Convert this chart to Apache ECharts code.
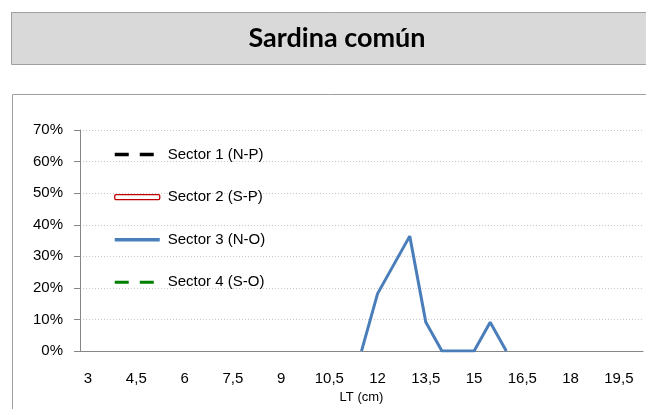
<!DOCTYPE html>
<html lang="es">
<head>
  <meta charset="UTF-8" />
  <title>Sardina común</title>
  <script src="https://cdn.jsdelivr.net/npm/echarts@6/dist/echarts.min.js"></script>
  <style>
    html, body { margin: 0; padding: 0; background: #fff; }
    #grafico { width: 646px; height: 409px; }
  </style>
</head>
<body>
  <div id="grafico"></div>
  <script>
    // Tallas LT (cm), de 3 a 20 cada 0,5
    var tallas = ['3','3,5','4','4,5','5','5,5','6','6,5','7','7,5','8','8,5','9','9,5','10','10,5',
      '11','11,5','12','12,5','13','13,5','14','14,5','15','15,5','16','16,5','17','17,5','18','18,5',
      '19','19,5','20'];

    // Frecuencia (%) por sector
    var sector1 = [];
    var sector2 = [];
    var sector3 = [null,null,null,null,null,null,null,null,null,null,null,null,null,null,null,null,
      null,0,18.2,27.3,36.4,9.1,0,0,0,9.1,0];
    var sector4 = [];

    var nombres = ['Sector 1 (N-P)', 'Sector 2 (S-P)', 'Sector 3 (N-O)', 'Sector 4 (S-O)'];

    var chart = echarts.init(document.getElementById('grafico'));
    var fuente = '"Liberation Sans", Arial, sans-serif';
    var sinPunto = { opacity: 0 };

    var option = {
      animation: false,
      graphic: [
        { type: 'rect', z: -10, shape: { x: 11.5, y: 12.5, width: 640, height: 52 },
          style: { fill: '#d9d9d9', stroke: '#a0a0a0', lineWidth: 1 } },
        { type: 'rect', z: -10, shape: { x: 12.5, y: 94.5, width: 640, height: 330 },
          style: { fill: '#fff', stroke: '#a0a0a0', lineWidth: 1 } },
        { type: 'text', z: 10, x: 337, y: 38,
          style: { text: 'Sardina común', fill: '#000', font: 'bold 27px Lato, "Open Sans", sans-serif',
            align: 'center', verticalAlign: 'middle' } }
      ],
      legend: {
        orient: 'vertical',
        left: 113,
        top: 147,
        padding: 0,
        itemWidth: 45,
        itemHeight: 5,
        itemGap: 27.6,
        textStyle: { fontFamily: fuente, fontSize: 15, color: '#000', padding: [0, 0, 0, 3] },
        data: [
          { name: nombres[0], itemStyle: sinPunto, lineStyle: { width: 3.5 } },
          { name: nombres[1], icon: 'roundRect', itemStyle: { color: '#fff', borderColor: '#c00000', borderWidth: 1.3 } },
          { name: nombres[2], itemStyle: sinPunto, lineStyle: { width: 3.5 } },
          { name: nombres[3], itemStyle: sinPunto, lineStyle: { width: 3 } }
        ]
      },
      grid: { left: 80, right: 3, top: 130, bottom: 57 },
      xAxis: {
        type: 'category',
        data: tallas,
        boundaryGap: true,
        name: 'LT (cm)',
        nameLocation: 'middle',
        nameGap: 38,
        nameTextStyle: { fontFamily: fuente, fontSize: 13, color: '#000' },
        axisLine: { lineStyle: { color: '#868686', width: 1 } },
        axisTick: { interval: 0, length: 6, lineStyle: { color: '#868686' } },
        axisLabel: { interval: 2, margin: 20, fontFamily: fuente, fontSize: 15, color: '#000' }
      },
      yAxis: {
        type: 'value',
        min: 0,
        max: 70,
        interval: 10,
        axisLine: { show: true, lineStyle: { color: '#868686', width: 1 } },
        axisTick: { show: true, length: 6, lineStyle: { color: '#868686' } },
        axisLabel: { margin: 17, fontFamily: fuente, fontSize: 15, color: '#000', formatter: '{value}%' },
        splitLine: { lineStyle: { color: '#c8c8c8', type: [1, 2], width: 1 } }
      },
      series: [
        { name: nombres[0], type: 'line', data: sector1, symbol: 'none',
          itemStyle: { color: '#000' }, lineStyle: { color: '#000', width: 3, type: [14, 11] } },
        { name: nombres[1], type: 'line', data: sector2, symbol: 'none',
          itemStyle: { color: '#c00000' }, lineStyle: { color: '#c00000', width: 3 } },
        { name: nombres[2], type: 'line', data: sector3, symbol: 'none',
          itemStyle: { color: '#4a7ebb' }, lineStyle: { color: '#4a7ebb', width: 3 } },
        { name: nombres[3], type: 'line', data: sector4, symbol: 'none',
          itemStyle: { color: '#008000' }, lineStyle: { color: '#008000', width: 2.5, type: [14, 11] } }
      ]
    };

    chart.setOption(option);
  </script>
</body>
</html>
